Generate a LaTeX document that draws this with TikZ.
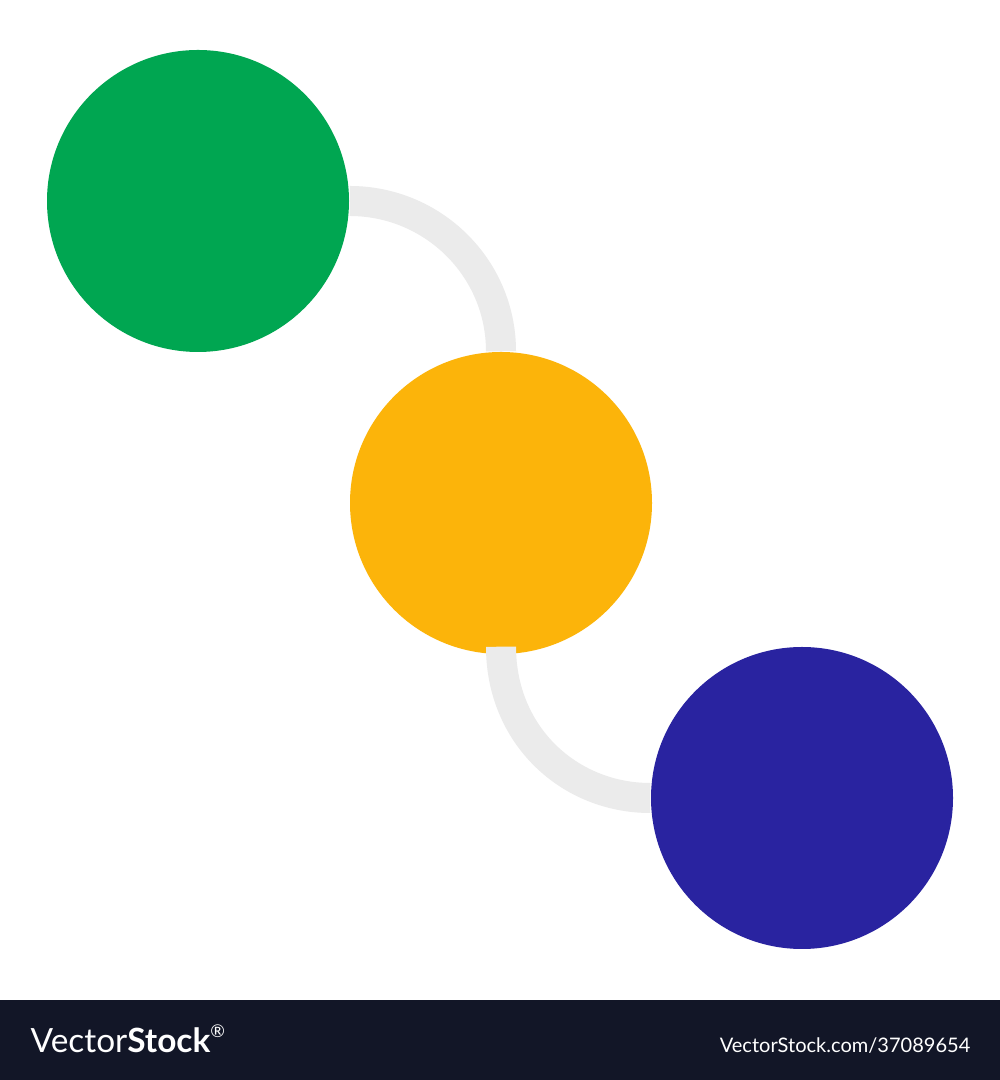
\documentclass[tikz,border=0pt]{standalone}
\usepackage{fontspec}
\setmainfont{Lato}
\usepackage{tikz}
\usetikzlibrary{arrows}

\definecolor{dotgreen}{RGB}{0,166,81}
\definecolor{dotyellow}{RGB}{252,180,10}
\definecolor{dotblue}{RGB}{41,35,160}
\definecolor{linkgrey}{RGB}{235,235,235}
\definecolor{footbg}{RGB}{18,22,39}

\pgfdeclarelayer{back}
\pgfdeclarelayer{front}
\pgfsetlayers{back,main,front}

\tikzset{
  dot/.style={circle,minimum size=3.02cm,inner sep=0pt},
  link/.style={draw=linkgrey,line width=0.3cm}
}

\begin{document}
\begin{tikzpicture}

          \useasboundingbox (0,0) rectangle (10,10.8);

          % the three dots
          \node[dot,fill=dotgreen] (green) at (1.98,8.79) {};
          \node[dot,fill=dotyellow] (yellow) at (5.01,5.77) {};
          \begin{pgfonlayer}{front}
          \node[dot,fill=dotblue] (blue) at (8.02,2.82) {};
          \end{pgfonlayer}

          % grey links
          \begin{pgfonlayer}{back}
          \fill[white] (0,0.8) rectangle (10,10.8);
          \draw[link] (green.east) to[out=0,in=90] (yellow.north);
          \end{pgfonlayer}
          \draw[link,shorten <=-0.08cm] (yellow.south) to[out=-90,in=180] (blue.west);

          % footer
          \fill[footbg] (0,0) rectangle (10,0.8);
          \node[anchor=base west,inner sep=0pt,text=white,font=\fontsize{9.5}{10}\selectfont] (brand) at (0.30,0.27)
               {Vector\textbf{Stock}\raisebox{0.9ex}{\fontsize{5}{5}\selectfont\textregistered}};
          \node[anchor=base east,inner sep=0pt,text=white,font=\fontsize{5.7}{6}\selectfont] (imgid) at (9.71,0.27)
               {VectorStock.com/37089654};

%          \draw[red,thick] (0,0) rectangle (10,10.8);

        \end{tikzpicture}
\end{document}
